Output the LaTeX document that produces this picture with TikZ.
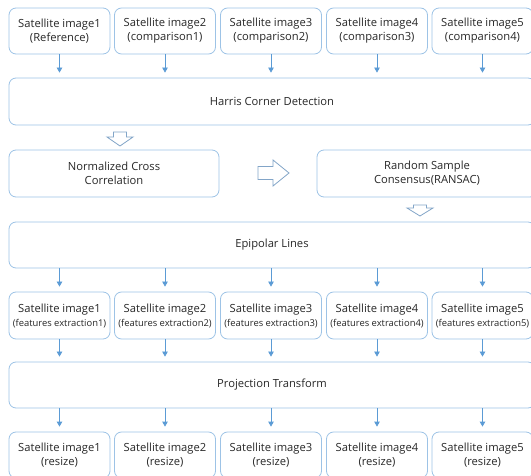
\documentclass[tikz,border=0pt]{standalone}
\usepackage{fontspec}
\setmainfont{Open Sans}
\usetikzlibrary{arrows.meta}
\definecolor{boxline}{RGB}{157,195,230}
\definecolor{arrline}{RGB}{91,155,213}
\definecolor{hollowline}{RGB}{130,165,200}
\definecolor{txt}{RGB}{40,40,40}
\newcommand{\featfont}{\fontsize{9.4}{11}\selectfont}

\begin{document}
\begin{tikzpicture}[x=1pt, y=-1pt,
    imgbox/.style={rectangle, draw=boxline, fill=white, line width=0.8pt,
                   rounded corners=7pt, minimum width=101pt, minimum height=46pt,
                   inner sep=1pt, text=txt, align=center,
                   font=\fontsize{11.2}{14}\selectfont},
    stagebox/.style={imgbox, minimum width=526pt, minimum height=47pt},
    pairbox/.style={imgbox, minimum height=47pt},
    arr/.style={-{Triangle[length=5pt, width=5.5pt]}, arrline, line width=0.8pt, shorten >=5pt},
    hollow/.style={draw=hollowline, fill=white, line width=0.8pt, line join=miter},
]
\useasboundingbox (0,0) rectangle (531,476);
\clip (0,0) rectangle (531,476);

% input images (top)
\node[imgbox] (in1) at (59.5,31) {Satellite image1\\(Reference)};
\node[imgbox] (in2) at (165,31) {Satellite image2\\(comparison1)};
\node[imgbox] (in3) at (271,31) {Satellite image3\\(comparison2)};
\node[imgbox] (in4) at (377,31) {Satellite image4\\(comparison3)};
\node[imgbox] (in5) at (482.5,31) {Satellite image5\\(comparison4)};

\node[stagebox] (harris) at (272,101.5) {Harris Corner Detection};
\draw[arr] (in1) -- (in1 |- harris.north);
\draw[arr] (in2) -- (in2 |- harris.north);
\draw[arr] (in3) -- (in3 |- harris.north);
\draw[arr] (in4) -- (in4 |- harris.north);
\draw[arr] (in5) -- (in5 |- harris.north);

% matching stage
\draw[hollow] (113.5,132) -- ++(13,0) -- ++(0,5) -- ++(6.5,0) -- ++(-13,9) -- ++(-13,-9) -- ++(6.5,0) -- cycle;
\node[pairbox, minimum width=210pt] (ncc) at (114,173.5) {Normalized Cross\\Correlation};
\draw[hollow] (258,166.5) -- ++(15,0) -- ++(0,-6.5) -- ++(16,13) -- ++(-16,13) -- ++(0,-6.5) -- ++(-15,0) -- cycle;
\node[pairbox, minimum width=220pt] (ransac) at (427,173.5) {Random Sample\\Consensus(RANSAC)};
\draw[hollow] (413.5,205) -- ++(13,0) -- ++(0,3) -- ++(6.5,0) -- ++(-13,8) -- ++(-13,-8) -- ++(6.5,0) -- cycle;

\node[stagebox, minimum height=46pt] (epi) at (272,245) {Epipolar Lines};

% feature extraction
\node[pairbox] (fe1) at (59.5,315.5) {Satellite image1\\{\featfont(features extraction1)}};
\node[pairbox] (fe2) at (165,315.5) {Satellite image2\\{\featfont(features extraction2)}};
\node[pairbox] (fe3) at (271,315.5) {Satellite image3\\{\featfont(features extraction3)}};
\node[pairbox] (fe4) at (377,315.5) {Satellite image4\\{\featfont(features extraction4)}};
\node[pairbox] (fe5) at (482.5,315.5) {Satellite image5\\{\featfont(features extraction5)}};
\draw[arr] (fe1 |- epi.south) -- (fe1.north);
\draw[arr] (fe2 |- epi.south) -- (fe2.north);
\draw[arr] (fe3 |- epi.south) -- (fe3.north);
\draw[arr] (fe4 |- epi.south) -- (fe4.north);
\draw[arr] (fe5 |- epi.south) -- (fe5.north);

% projection and resize
\node[stagebox, minimum height=46pt] (proj) at (272,385) {Projection Transform};
\draw[arr] (fe1) -- (fe1 |- proj.north);
\draw[arr] (fe2) -- (fe2 |- proj.north);
\draw[arr] (fe3) -- (fe3 |- proj.north);
\draw[arr] (fe4) -- (fe4 |- proj.north);
\draw[arr] (fe5) -- (fe5 |- proj.north);

\node[imgbox] (rs1) at (59.5,455) {Satellite image1\\(resize)};
\node[imgbox] (rs2) at (165,455) {Satellite image2\\(resize)};
\node[imgbox] (rs3) at (271,455) {Satellite image3\\(resize)};
\node[imgbox] (rs4) at (377,455) {Satellite image4\\(resize)};
\node[imgbox] (rs5) at (482.5,455) {Satellite image5\\(resize)};
\draw[arr] (rs1 |- proj.south) -- (rs1.north);
\draw[arr] (rs2 |- proj.south) -- (rs2.north);
\draw[arr] (rs3 |- proj.south) -- (rs3.north);
\draw[arr] (rs4 |- proj.south) -- (rs4.north);
\draw[arr] (rs5 |- proj.south) -- (rs5.north);
\end{tikzpicture}
\end{document}
